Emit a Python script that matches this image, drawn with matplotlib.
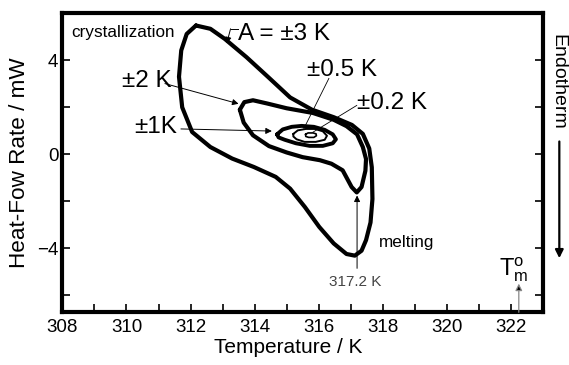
import matplotlib
matplotlib.use('Agg')
import matplotlib.pyplot as plt
import numpy as np

plt.rcParams['font.family'] = ['Liberation Sans', 'DejaVu Sans']
plt.rcParams['mathtext.fontset'] = 'custom'
plt.rcParams['mathtext.rm'] = 'Liberation Sans'
plt.rcParams['mathtext.it'] = 'Liberation Sans'

# loop for A = +-3 K (temperature in K, heat-flow rate in mW)
t_3k = [312.17, 312.62, 313.07, 313.75, 314.43, 315.11, 315.79, 316.47, 317.04, 317.38,
        317.58, 317.66, 317.68, 317.62, 317.48, 317.34, 317.13, 316.87, 316.47, 316.02,
        315.57, 315.11, 314.66, 313.98, 313.30, 312.62, 312.05, 311.74, 311.64, 311.71,
        311.88, 312.17]
q_3k = [5.48, 5.34, 4.91, 4.13, 3.28, 2.42, 1.90, 1.58, 1.25, 0.87,
        0.25, -0.55, -1.90, -2.90, -3.65, -4.10, -4.31, -4.24, -3.79, -3.09,
        -2.24, -1.46, -0.96, -0.54, -0.18, 0.31, 0.95, 2.00, 3.30, 4.42,
        5.12, 5.48]

# loop for A = +-2 K
t_2k = [313.54, 313.68, 313.95, 314.40, 315.00, 315.82, 316.47, 316.87, 317.20, 317.38,
        317.48, 317.46, 317.34, 317.19, 317.03, 316.75, 316.40, 316.04, 315.50, 315.00,
        314.45, 313.95, 313.66, 313.54]
q_2k = [1.90, 2.22, 2.30, 2.16, 1.96, 1.76, 1.47, 1.20, 0.85, 0.31,
        -0.20, -0.70, -1.39, -1.62, -1.39, -0.68, -0.40, -0.25, -0.12, 0.08,
        0.35, 0.81, 1.35, 1.90]

# loop for A = +-1 K
t_1k = [314.70, 314.88, 315.16, 315.47, 315.85, 316.19, 316.44, 316.54, 316.44, 316.13,
        315.72, 315.29, 314.94, 314.75, 314.70]
q_1k = [0.85, 1.06, 1.17, 1.21, 1.17, 1.04, 0.85, 0.64, 0.47, 0.36,
        0.36, 0.47, 0.62, 0.72, 0.85]

# loop for A = +-0.5 K
t_05k = [315.21, 315.35, 315.60, 315.88, 316.13, 316.26, 316.19, 315.91, 315.56, 315.31,
         315.21, 315.21]
q_05k = [0.87, 1.02, 1.08, 1.08, 0.98, 0.79, 0.62, 0.53, 0.53, 0.64,
         0.76, 0.87]

# loop for A = +-0.2 K
t_02k = [315.59, 315.67, 315.83, 315.92, 315.93, 315.85, 315.69, 315.60, 315.59]
q_02k = [0.85, 0.91, 0.91, 0.87, 0.79, 0.72, 0.72, 0.76, 0.85]

t_peak = 317.2      # melting peak
t_m0 = 322.25       # equilibrium melting point

fig = plt.figure(figsize=(5.69, 3.65), dpi=100)
ax = fig.add_axes([0.1097, 0.1444, 0.8443, 0.8192])

kw = dict(color='k', solid_joinstyle='round', solid_capstyle='round')
ax.plot(t_3k, q_3k, lw=3.0, **kw)
ax.plot(t_2k, q_2k, lw=3.0, **kw)
ax.plot(t_1k, q_1k, lw=2.8, **kw)
ax.plot(t_05k, q_05k, lw=1.4, **kw)
ax.plot(t_02k, q_02k, lw=1.2, **kw)

ax.set_xlim(308, 323)
ax.set_ylim(-6.72, 6.0)
ax.set_xticks([308, 310, 312, 314, 316, 318, 320, 322])
ax.set_xticks(np.arange(309, 323, 2), minor=True)
ax.set_yticks([-4, 0, 4])
ax.set_yticks([-6, -2, 2], minor=True)
ax.tick_params(which='both', direction='in', labelsize=13.5, width=1.2, length=6,
               left=True, right=True, top=False, bottom=True)
ax.tick_params(axis='x', pad=5)
ax.tick_params(axis='y', pad=3)
for sp in ax.spines.values():
    sp.set_linewidth(3.0)

ax.set_xlabel('Temperature / K', fontsize=15, labelpad=1)
ax.xaxis.set_label_coords(0.47, -0.085)
ax.set_ylabel('Heat-Fow Rate / mW', fontsize=16.2, labelpad=5)

arr = dict(arrowstyle='-|>', color='k', lw=0.7, mutation_scale=9,
           shrinkA=0, shrinkB=0)

ax.text(308.27, 5.18, 'crystallization', fontsize=12.3, va='center', ha='left')

ax.text(313.48, 5.14, 'A = \u00b13 K', fontsize=17.5, va='center', ha='left')
ax.plot([313.49, 313.25], [5.34, 5.34], color='k', lw=0.7)
ax.annotate('', xy=(313.13, 4.72), xytext=(313.25, 5.34), arrowprops=arr)

ax.text(315.63, 3.57, '\u00b10.5 K', fontsize=17.5, va='center', ha='left')
ax.plot([316.32, 315.54], [3.23, 1.10], color='k', lw=0.6)

ax.text(317.19, 2.17, '\u00b10.2 K', fontsize=17.5, va='center', ha='left')
ax.plot([317.19, 315.82], [2.08, 0.94], color='k', lw=0.6)

ax.text(309.86, 3.14, '\u00b12 K', fontsize=17.5, va='center', ha='left')
ax.annotate('', xy=(313.5, 2.15), xytext=(311.2, 3.01), arrowprops=arr)

ax.text(310.23, 1.15, '\u00b11K', fontsize=17.5, va='center', ha='left')
ax.annotate('', xy=(314.54, 0.99), xytext=(311.7, 1.08), arrowprops=arr)

ax.text(317.88, -3.74, 'melting', fontsize=12.3, va='center', ha='left')
ax.annotate('', xy=(t_peak, -1.75), xytext=(t_peak, -4.85), arrowprops=arr)
ax.text(t_peak - 0.05, -5.44, '%.1f K' % t_peak, fontsize=11, color='#444444',
        va='center', ha='center')

ax.annotate('', xy=(t_m0, -5.5), xytext=(t_m0, -6.72),
            arrowprops=dict(arrowstyle='-|>', color='#888888', lw=0.9,
                            mutation_scale=10, shrinkA=0, shrinkB=0,
                            fc='k', ec='#888888'))
ax.text(t_m0 - 0.15, -4.9, r'$\mathrm{T_m^o}$', fontsize=17, va='center', ha='center')

# endotherm direction on the right margin
fig.text(0.980, 0.775, 'Endotherm', rotation=-90, fontsize=14,
         va='center', ha='center')
fig.patches.append(matplotlib.patches.FancyArrowPatch(
    (0.983, 0.62), (0.983, 0.285), transform=fig.transFigure,
    arrowstyle='-|>', mutation_scale=12, lw=1.6, color='k'))

fig.savefig('out.png', dpi=100)
